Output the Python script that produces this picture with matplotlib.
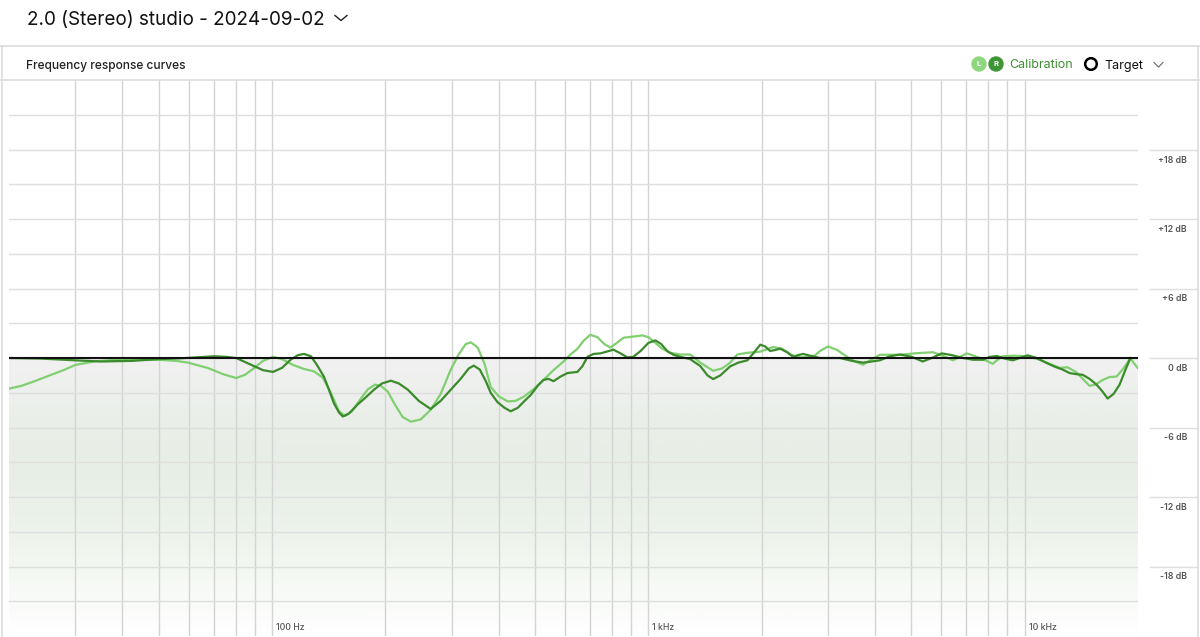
import numpy as np
import matplotlib
matplotlib.use('Agg')
from matplotlib import pyplot as plt
from matplotlib.lines import Line2D
from matplotlib.patches import Circle
from matplotlib.colors import to_rgb

plt.rcParams['font.family'] = ['Inter', 'DejaVu Sans']

# left channel (light green), frequency in Hz / level in dB
l_freq = [20, 21.6, 23.4, 25.9, 27.9, 30, 33.7, 40.2, 49.9, 55.6, 59.8, 67.6, 74.2, 80.3,
          84.8, 89.6, 94.6, 100.6, 106.3, 113.7, 121.6, 129.2, 136.5, 143.3, 150.6, 156.2,
          163, 172.2, 179.8, 187.6, 194.5, 203, 211.9, 222.4, 234, 248.4, 264, 280.6,
          298.5, 313.2, 327, 337.6, 352, 367, 381, 400, 423, 443.6, 466, 495, 526, 559.6,
          595, 621, 648, 673, 701, 732, 764, 793, 828, 859, 912, 964, 1000, 1044, 1089,
          1143, 1216, 1292, 1374, 1486, 1571, 1650, 1722, 1832, 1983, 2148, 2265, 2382,
          2529, 2742, 2858, 3002, 3170, 3373, 3540, 3718, 3926, 4122, 4660, 5103, 5700,
          6053, 6443, 6730, 7017, 7462, 7926, 8223, 8472, 8745, 9398, 10120, 10960,
          11650, 12390, 13000, 13740, 14260, 14870, 15420, 16100, 16790, 17540, 18200,
          18660, 19100, 19450, 19950]
l_db = [-2.65, -2.4, -2.0, -1.45, -1.05, -0.6, -0.3, -0.1, -0.15, -0.25, -0.4, -0.87, -1.4,
        -1.73, -1.45, -0.87, -0.25, 0.1, -0.1, -0.6, -0.95, -1.15, -1.7, -3.0, -4.6, -5.0,
        -4.6, -3.5, -2.7, -2.3, -2.4, -2.9, -4.0, -5.1, -5.5, -5.3, -4.47, -3.1,
        -1.0, 0.3, 1.2, 1.35, 0.9, -0.5, -2.5, -3.3, -3.75, -3.7, -3.35, -2.7, -1.9, -1.05,
        -0.3, 0.3, 0.8, 1.5, 2.0, 1.8, 1.2, 0.9, 1.35, 1.75, 1.85, 1.95, 1.8, 1.3, 0.8,
        0.45, 0.3, 0.3, -0.4, -1.1, -0.9, -0.4, 0.3, 0.45, 0.55, 0.95, 0.8, 0.3,
        0.05, 0.1, 0.6, 1.0, 0.7, 0.1, -0.3, -0.58, -0.1, 0.28, 0.28, 0.4, 0.5,
        0.2, -0.2, 0.1, 0.4, 0.1, -0.25, -0.5, -0.15, 0.15, 0.2, 0.15, -0.15,
        -0.5, -0.85, -0.8, -1.25, -1.8, -2.4, -2.3, -1.9, -1.65, -1.6, -1.0,
        -0.5, 0.0, -0.4, -0.85]

# right channel (dark green)
r_freq = [20, 24.4, 30, 35.1, 42.3, 49.9, 59.2, 70.2, 75.5, 80.3, 84.8, 89.6, 94.6, 100.6,
          106.3, 112, 117.2, 121.6, 126.9, 131.6, 137.3, 141.5, 146, 150.6, 154.2, 160, 169,
          177.4, 186.5, 195.8, 207, 217.3, 229.6, 245.4, 264, 280.6, 298.5, 317, 333.3,
          343.6, 356.5, 369.8, 381, 397, 414.7, 430.7, 449.8, 469, 486.6, 508, 526, 543,
          559.6, 584.6, 609.5, 628, 648, 668, 689, 714.5, 746.6, 783, 807.6, 843, 880, 912,
          953, 1000, 1044, 1082, 1122, 1165, 1216, 1292, 1374, 1436, 1486, 1553, 1650,
          1734, 1832, 1900, 1983, 2042, 2108, 2172, 2241, 2339, 2426, 2500, 2578, 2690,
          2858, 3229, 3477, 3718, 3926, 4122, 4385, 4660, 5012, 5355, 5662, 6023, 6399,
          6850, 7282, 7741, 8073, 8437, 8851, 9297, 9705, 10180, 10760, 11430, 12020,
          12610, 13160, 13740, 14260, 14870, 15520, 16100, 16610, 17220, 17870, 18530,
          19100]
r_db = [0.0, -0.05, -0.2, -0.3, -0.25, -0.1, 0.0, 0.15, 0.1, 0.0, -0.35, -0.7, -1.05, -1.2,
        -0.85, -0.15, 0.25, 0.35, 0.15, -0.6, -1.6, -2.7, -3.9, -4.7, -5.05, -4.8, -4.0,
        -3.4, -2.74, -2.2, -1.96, -2.2, -2.74, -3.7, -4.4, -3.7, -2.74, -1.8, -0.9,
        -0.66, -1.0, -2.0, -3.0, -3.8, -4.3, -4.6, -4.3, -3.7, -3.2, -2.4, -1.9, -1.8,
        -2.0, -1.6, -1.3, -1.25, -1.2, -0.7, 0.1, 0.35, 0.4, 0.6, 0.72, 0.4, 0.05, 0.1,
        0.6, 1.3, 1.52, 1.2, 0.6, 0.28, 0.1, -0.1, -0.7, -1.5, -1.82, -1.5, -0.72,
        -0.4, -0.2, 0.4, 1.15, 1.0, 0.6, 0.7, 0.8, 0.5, 0.1, 0.25, 0.35, 0.2,
        0.0, 0.0, -0.25, -0.4, -0.3, -0.2, 0.15, 0.3, 0.1, -0.3, 0.0, 0.4, 0.25,
        0.0, -0.15, -0.15, 0.1, 0.17, -0.05, -0.2, 0.0, 0.23, 0.0, -0.43, -0.75,
        -1.0, -1.3, -1.4, -1.45, -1.8, -2.3, -2.9, -3.5, -3.1, -2.3, -1.0,
        0.0]

target_freq = [20, 20000]
target_db = [0, 0]

grid_freqs = [30, 40, 50, 60, 70, 80, 90, 100, 200, 300, 400, 500, 600, 700, 800, 900,
              1000, 2000, 3000, 4000, 5000, 6000, 7000, 8000, 9000, 10000]
x_labels = {100: '100 Hz', 1000: '1 kHz', 10000: '10 kHz'}
y_labels = [18, 12, 6, 0, -6, -12, -18]

W, H = 1200, 637
fig = plt.figure(figsize=(12, 6.37), dpi=100)

def fx(px):
   return px / W

def fy(py):
   return 1 - py / H

def circle_px(cx, cy, r, **kw):
   # circle placed in pixel units so it stays round
   return Circle((cx / 100.0, (H - cy) / 100.0), radius=r / 100.0,
                 transform=fig.dpi_scale_trans, **kw)

# header
fig.text(fx(27), fy(20.5), '2.0 (Stereo) studio - 2024-09-02', fontsize=13.6, color='#111111',
         va='center', ha='left')
fig.add_artist(Line2D([fx(335), fx(341), fx(347)], [fy(15.5), fy(20.5), fy(15.5)],
                      color='#222222', lw=1.0))
fig.add_artist(Line2D([0, 1], [fy(46), fy(46)], color='#dddddd', lw=1.2))
fig.add_artist(Line2D([fx(1.5), fx(1.5)], [fy(46), 0], color='#dddddd', lw=1.2))
fig.add_artist(Line2D([fx(1197.5), fx(1197.5)], [fy(46), 0], color='#dddddd', lw=1.2))
fig.add_artist(Line2D([0, 1], [fy(80), fy(80)], color='#dddddd', lw=1.2))
fig.text(fx(26), fy(65.5), 'Frequency response curves', fontsize=8.6, color='#222222',
         va='center', ha='left', fontweight='medium')

# legend
light = '#80cf70'
dark = '#3b8b2c'
for cx, col, lab in [(979, '#8fd77f', 'L'), (996, '#3f9536', 'R')]:
   fig.add_artist(circle_px(cx, 64, 7, color=col))
   fig.text(fx(cx), fy(64), lab, fontsize=5.5, color='white', ha='center', va='center',
            fontweight='bold')
fig.text(fx(1009), fy(65.5), 'Calibration', fontsize=9, color='#3f8f33', va='center', ha='left')
fig.add_artist(circle_px(1091, 64, 5.8, facecolor='none', edgecolor='black', lw=1.8))
fig.text(fx(1104), fy(65.5), 'Target', fontsize=9, color='#111111', va='center', ha='left')
fig.add_artist(Line2D([fx(1154), fx(1158.5), fx(1163)], [fy(62.5), fy(67), fy(62.5)],
                      color='#666666', lw=0.8))

# plot area
ax = fig.add_axes([fx(9), fy(636), fx(1138) - fx(9), fy(80) - fy(636)])
ax.set_xscale('log')
for s in ax.spines.values():
   s.set_visible(False)
ax.set_xticks([])
ax.set_yticks([])
ax.minorticks_off()

# gradient below target
stops = [(0.0, '#f1f1f1'), (0.2, '#ebefea'), (0.4, '#e7eee5'), (0.65, '#eef4ec'), (1.0, '#ffffff')]
t = np.linspace(0, 1, 256)
grad = np.zeros((256, 1, 3))
for k in range(3):
   grad[:, 0, k] = np.interp(t, [s[0] for s in stops], [to_rgb(s[1])[k] for s in stops])
ax.imshow(grad, extent=[20, 20000, -24, 0], aspect='auto', origin='upper', zorder=0,
          interpolation='bilinear')

for f in grid_freqs:
   ax.axvline(f, color='#d4d4d4', lw=1.0, zorder=1)
for d in range(-21, 24, 3):
   ax.axhline(d, color='#dedede', lw=1.0, zorder=1)

ax.plot(l_freq, l_db, color=light, lw=1.6, zorder=3, solid_joinstyle='round')
ax.plot(r_freq, r_db, color=dark, lw=1.6, zorder=4, solid_joinstyle='round')
ax.plot(target_freq, target_db, color='#111111', lw=1.5, zorder=5)

ax.set_xlim(20, 20000)
ax.set_ylim(-24, 24)

for f, lab in x_labels.items():
   ax.annotate(lab, (f, -24), xytext=(4, 9), textcoords='offset pixels', fontsize=6.3,
               color='#555555', ha='left', va='center', fontweight='medium')

# y labels column
for d in y_labels:
   py = 358.3 - d * 11.57
   fig.add_artist(Line2D([fx(1150), fx(1197)], [fy(py), fy(py)], color='#dedede', lw=1.0))
   lab = ('+%d dB' % d) if d > 0 else ('%d dB' % d)
   fig.text(fx(1187), fy(py + 10), lab, fontsize=6.3, color='#555555', ha='right',
            va='center', fontweight='semibold')

plt.savefig('out.png', dpi=100)
